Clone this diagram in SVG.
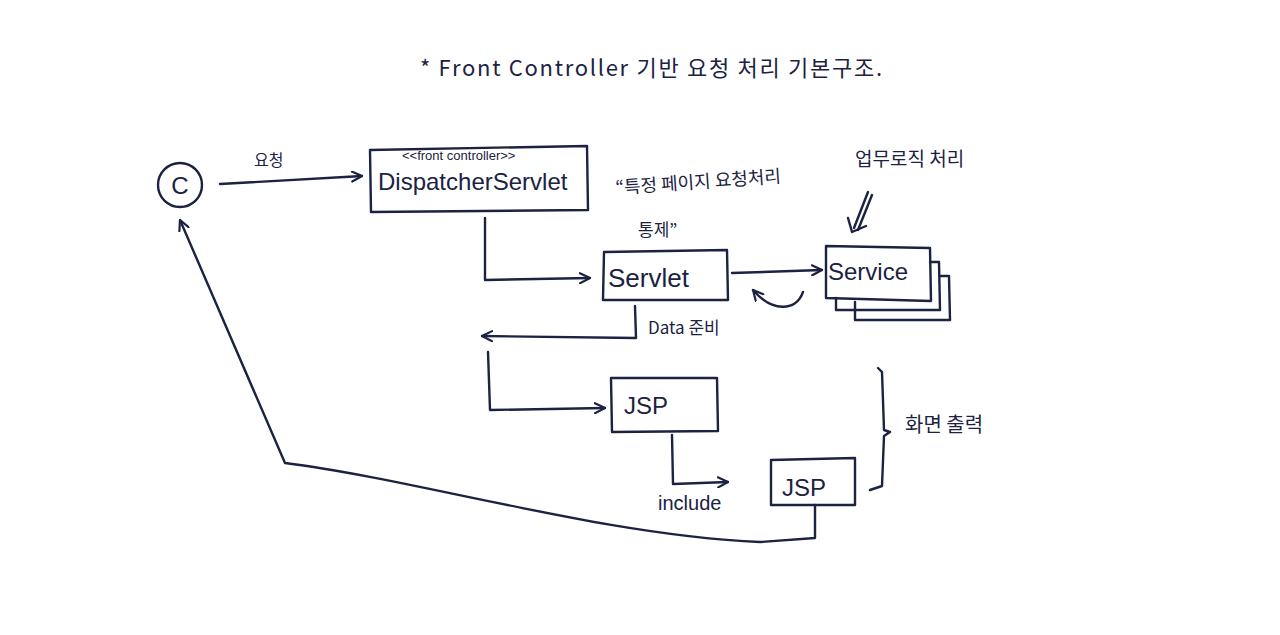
<svg xmlns="http://www.w3.org/2000/svg" width="1280" height="635" viewBox="0 0 1280 635">
<defs>
<style>
.ln{fill:none;stroke:#1b2242;stroke-width:2.4;stroke-linecap:round;stroke-linejoin:round}
.t{fill:#1b2242;font-family:"Liberation Sans","Noto Sans CJK KR",sans-serif}
.k{fill:#1b2242;font-family:"Noto Sans CJK KR","Liberation Sans",sans-serif}
</style>
<marker id="ah" viewBox="0 0 12 12" refX="11" refY="6" markerWidth="12" markerHeight="12" markerUnits="userSpaceOnUse" orient="auto">
<path d="M1,1 L11,6 L1,11" fill="none" stroke="#1b2242" stroke-width="2.2" stroke-linecap="round" stroke-linejoin="round"/>
</marker>
</defs>
<rect width="1280" height="635" fill="#ffffff"/>
<text class="k" x="420" y="76" font-size="22" textLength="462" lengthAdjust="spacing">* Front Controller 기반 요청 처리 기본구조.</text>

<g id="client">
<circle class="ln" cx="180" cy="185" r="22"/>
<text class="t" x="180" y="194" font-size="24" text-anchor="middle">C</text>
</g>

<g id="dispatcher">
<path class="ln" d="M370,150 L587,146 L588,210 L371,212 Z"/>
<text class="t" x="402" y="160" font-size="13">&lt;&lt;front controller&gt;&gt;</text>
<text class="t" x="378" y="190" font-size="24">DispatcherServlet</text>
</g>

<g id="servlet">
<path class="ln" d="M604,252 L727,250 L728,300 L603,300 Z"/>
<text class="t" x="608" y="287" font-size="26">Servlet</text>
</g>

<g id="service">
<path class="ln" d="M855,302 L855,320 L950,320 L949,276 L940,276"/>
<path class="ln" d="M836,298 L836,310 L940,310 L939,262 L930,262"/>
<path class="ln" d="M826,246 L930,248 L931,301 L826,298 Z"/>
<text class="t" x="828" y="280" font-size="24">Service</text>
</g>

<g id="jsp1">
<path class="ln" d="M611,378 L717,378 L718,431 L612,432 Z"/>
<text class="t" x="624" y="414" font-size="24">JSP</text>
</g>

<g id="jsp2">
<path class="ln" d="M771,460 L855,458 L855,505 L771,505 Z"/>
<text class="t" x="782" y="496" font-size="24">JSP</text>
</g>

<g id="connectors">
<path class="ln" d="M220,184 L362,176" marker-end="url(#ah)"/>
<path class="ln" d="M485,218 L485,280 L590,278" marker-end="url(#ah)"/>
<path class="ln" d="M732,273 L822,270" marker-end="url(#ah)"/>
<path class="ln" d="M803,292 C796,312 772,312 753,290" marker-end="url(#ah)"/>
<path class="ln" d="M635,306 L636,338 L482,336" marker-end="url(#ah)"/>
<path class="ln" d="M488,352 L490,410 L605,408" marker-end="url(#ah)"/>
<path class="ln" d="M672,435 L673,484 L728,482" marker-end="url(#ah)"/>
<path class="ln" d="M815,505 L815,538 L760,542 C600,535 420,480 285,463 L180,220" marker-end="url(#ah)"/>
<path class="ln" d="M868,192 L854,228 M872,195 L858,230"/>
<path class="ln" d="M848,218 L852,232 L866,226"/>
<path class="ln" d="M878,368 L882,372 L884,430 L890,432 L884,436 L882,486 L870,490"/>
</g>

<g id="labels">
<text class="k" x="254" y="166" font-size="16">요청</text>
<text class="k" x="616" y="194" font-size="18" transform="rotate(-4 616 194)">“특정 페이지 요청처리</text>
<text class="k" x="638" y="236" font-size="17">통제”</text>
<text class="k" x="855" y="166" font-size="19">업무로직 처리</text>
<text class="k" x="648" y="334" font-size="17">Data 준비</text>
<text class="t" x="658" y="510" font-size="20">include</text>
<text class="k" x="905" y="432" font-size="20">화면 출력</text>
</g>
</svg>
